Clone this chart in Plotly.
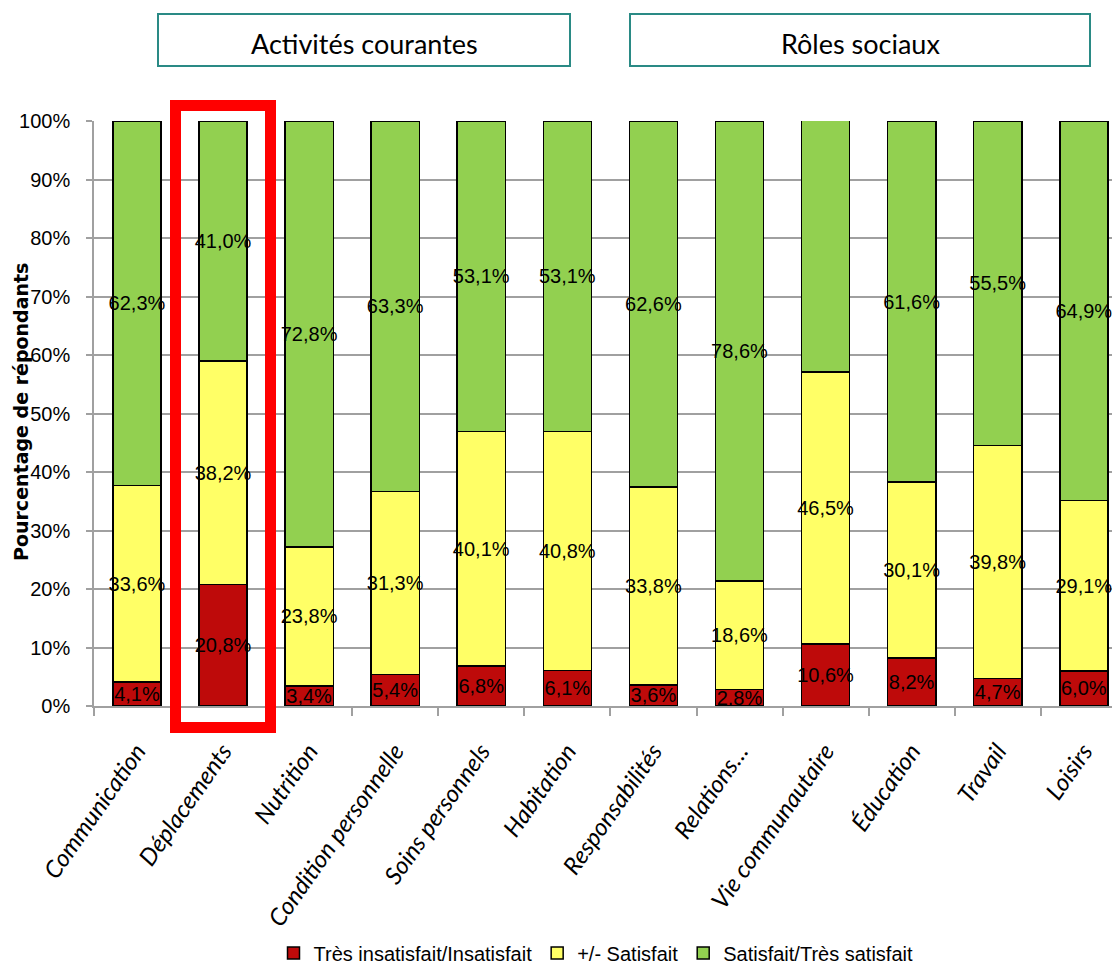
import plotly.graph_objects as go

categories = ["Communication", "Déplacements", "Nutrition", "Condition personnelle",
              "Soins personnels", "Habitation", "Responsabilités", "Relations…",
              "Vie communautaire", "Éducation", "Travail", "Loisirs"]
tres_insatisfait = [4.1, 20.8, 3.4, 5.4, 6.8, 6.1, 3.6, 2.8, 10.6, 8.2, 4.7, 6.0]
plus_moins = [33.6, 38.2, 23.8, 31.3, 40.1, 40.8, 33.8, 18.6, 46.5, 30.1, 39.8, 29.1]
satisfait = [62.3, 41.0, 72.8, 63.3, 53.1, 53.1, 62.6, 78.6, 43.0, 61.6, 55.5, 64.9]
series_names = ["Très insatisfait/Insatisfait", "+/- Satisfait", "Satisfait/Très satisfait"]
y_ticks = list(range(0, 101, 10))
y_ticktext = [f"{v}%" for v in y_ticks]
group_titles = ["Activités courantes", "Rôles sociaux"]

colors = ["#BE0A0A", "#FFFF66", "#92D050"]
NARROW = "Liberation Sans Narrow, Arial Narrow, Liberation Sans, sans-serif"
CAL = "Lato, Open Sans, sans-serif"


def fmt(v):
    return f"{v:.1f}".replace(".", ",") + "%"


fig = go.Figure()
for name, vals, col in zip(series_names, [tres_insatisfait, plus_moins, satisfait], colors):
    fig.add_trace(go.Bar(
        x=categories, y=vals, name=name,
        marker=dict(color=col, line=dict(color="black", width=1.5)),
        width=0.56,
        text=[fmt(v) for v in vals],
        textposition="inside", insidetextanchor="middle",
        textangle=0, constraintext="none", cliponaxis=False,
        textfont=dict(family=NARROW, size=20, color="black"),
        hoverinfo="skip",
    ))

# page body has an 8px default margin; work in screenshot pixels and convert
OFF = 8
W, H = 1120 - OFF, 969 - OFF
L, R = 94 - OFF, 0
T = 121 - OFF
B = H - (706 - OFF)
pw, ph = W - L - R, H - T - B


def px(x):
    return (x - OFF - L) / pw


def py(y):
    return (H - B - (y - OFF)) / ph


shapes = [
    dict(type="rect", xref="paper", yref="paper",
         x0=px(175.5), x1=px(270.5), y0=py(727.5), y1=py(105.5),
         line=dict(color="#FF0000", width=11), fillcolor="rgba(0,0,0,0)", layer="above"),
    dict(type="rect", xref="paper", yref="paper",
         x0=px(158), x1=px(570), y0=py(66), y1=py(14),
         line=dict(color="#2A8A85", width=2), fillcolor="white"),
    dict(type="rect", xref="paper", yref="paper",
         x0=px(630), x1=px(1090), y0=py(66), y1=py(14),
         line=dict(color="#2A8A85", width=2), fillcolor="white"),
]

annotations = [
    dict(text=group_titles[0], xref="paper", yref="paper", x=px(364), y=py(43),
         showarrow=False, font=dict(family=CAL, size=27, color="black"),
         xanchor="center", yanchor="middle"),
    dict(text=group_titles[1], xref="paper", yref="paper", x=px(860), y=py(43),
         showarrow=False, font=dict(family=CAL, size=27, color="black"),
         xanchor="center", yanchor="middle"),
    dict(text="<b>Pourcentage de répondants</b>", xref="paper", yref="paper",
         x=px(21), y=py(412), textangle=-90, showarrow=False,
         font=dict(family="DejaVu Sans, sans-serif", size=19, color="black"),
         xanchor="center", yanchor="middle"),
]

fig.update_layout(
    width=W, height=H,
    barmode="stack",
    paper_bgcolor="white", plot_bgcolor="white",
    margin=dict(l=L, r=R, t=T, b=B, autoexpand=False),
    shapes=shapes,
    annotations=annotations,
    showlegend=True,
    legend=dict(orientation="h", x=px(596), xanchor="center", y=py(953), yanchor="middle",
                font=dict(family=NARROW, size=20, color="black"),
                itemwidth=30, tracegroupgap=0, traceorder="normal"),
    xaxis=dict(
        range=[-0.5, 11.42],
        showline=True, linecolor="#A0A0A0", linewidth=1.5,
        ticks="outside", tickson="boundaries", ticklen=8, tickcolor="#A0A0A0", tickwidth=1.5,
        tickangle=-55, ticklabelstandoff=20,
        tickfont=dict(family=CAL, size=24, color="black", style="italic"),
        showgrid=False, automargin=False,
    ),
    yaxis=dict(
        range=[0, 100],
        tickvals=y_ticks, ticktext=y_ticktext,
        showgrid=True, gridcolor="#A0A0A0", gridwidth=1.5,
        showline=True, linecolor="#A0A0A0", linewidth=1.5,
        ticks="outside", ticklen=6, tickcolor="#A0A0A0", tickwidth=1.5,
        ticklabelstandoff=12,
        tickfont=dict(family=NARROW, size=20, color="black"),
        zeroline=False, automargin=False,
    ),
)

fig.write_html("out.html")
